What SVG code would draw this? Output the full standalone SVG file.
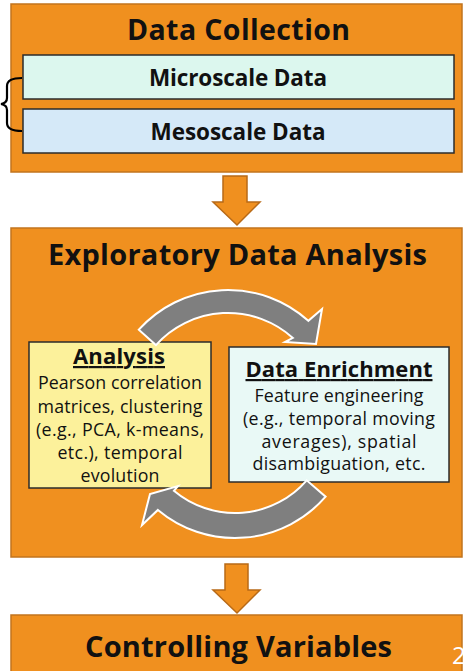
<svg xmlns="http://www.w3.org/2000/svg" width="474" height="671" viewBox="0 0 474 671">
<style>
.frame{fill:#f0901f;stroke:#c2741e;stroke-width:1.5}
.inner{stroke:#2b2b2b;stroke-width:1.5}
.h{font-family:"Open Sans",Lato,sans-serif;font-weight:bold;fill:#111;text-anchor:middle}
.b{font-family:"Open Sans",Lato,sans-serif;fill:#111;text-anchor:middle;font-size:17.8px}
.down{fill:#f0901f;stroke:#b86a17;stroke-width:1.5;stroke-linejoin:miter}
.circ{fill:#7f7f7f;stroke:#ffffff;stroke-width:2;stroke-linejoin:miter}
</style>
<rect width="474" height="671" fill="#ffffff"/>
<g id="data-collection">
<rect class="frame" x="11" y="4" width="451" height="168"/>
<text class="h" x="238.5" y="40" font-size="28.5" textLength="223">Data Collection</text>
</g>
<g id="microscale">
<rect class="inner" x="23" y="55" width="431" height="44" fill="#dcf7ee"/>
<text class="h" x="238" y="86" font-size="22.5" textLength="178">Microscale Data</text>
</g>
<g id="mesoscale">
<rect class="inner" x="23" y="109" width="431" height="44" fill="#d5e9f8"/>
<text class="h" x="238" y="140" font-size="22.5" textLength="175">Mesoscale Data</text>
</g>
<g id="brace">
<path d="M22,78 Q7,78 7,86 L7,98 Q7,103 1,104 Q7,105 7,110 L7,123 Q7,131 22,131" fill="none" stroke="#000" stroke-width="2.2"/>
</g>
<g id="eda">
<rect class="frame" x="11" y="228" width="451" height="329"/>
<text class="h" x="237.5" y="265" font-size="29" textLength="379">Exploratory Data Analysis</text>
</g>
<g id="analysis">
<rect class="inner" x="29" y="342" width="182" height="146" fill="#fcf19b"/>
<text class="h" x="119" y="364" font-size="22" textLength="92" text-decoration="underline">Analysis</text>
<text class="b" x="120" y="389" textLength="164">Pearson correlation</text>
<text class="b" x="120" y="413" textLength="165">matrices, clustering</text>
<text class="b" x="120" y="436" textLength="168">(e.g., PCA, k-means,</text>
<text class="b" x="120" y="459" textLength="125">etc.), temporal</text>
<text class="b" x="120" y="482" textLength="79">evolution</text>
</g>
<g id="data-enrichment">
<rect class="inner" x="229" y="347" width="220" height="135" fill="#e9f9f6"/>
<text class="h" x="339" y="377" font-size="22" textLength="187" text-decoration="underline">Data Enrichment</text>
<text class="b" x="339" y="402" textLength="169">Feature engineering</text>
<text class="b" x="339" y="425" textLength="192">(e.g., temporal moving</text>
<text class="b" x="339" y="448" textLength="155">averages), spatial</text>
<text class="b" x="339" y="470" textLength="173">disambiguation, etc.</text>
</g>
<g id="controlling-variables">
<rect class="frame" x="11" y="615" width="451" height="60"/>
<text class="h" x="238.5" y="657" font-size="29" textLength="307">Controlling Variables</text>
</g>
<g id="connectors">
<path class="down" d="M223,176 L247,176 L247,202 L260,202 L237,225 L213,202 L223,202 Z"/>
<path class="down" d="M225,564 L248,564 L248,590 L260,590 L237,613 L213,590 L225,590 Z"/>
<path class="circ" d="M138.8,329.7 A120,120 0 0 1 308.3,320.8 L322,309 L316,344 L285,342 L292.9,337.9 A97,97 0 0 0 155.9,345.1 Z"/>
<path class="circ" d="M325.6,496.7 A120,120 0 0 1 157.9,509.9 L142,525 L150,494 L178,486 L173.9,490.8 A95,95 0 0 0 306.7,480.3 Z"/>
</g>
<text x="452" y="664" font-family="'Open Sans',Lato,sans-serif" font-size="24" fill="#ffffff">2</text>
</svg>
